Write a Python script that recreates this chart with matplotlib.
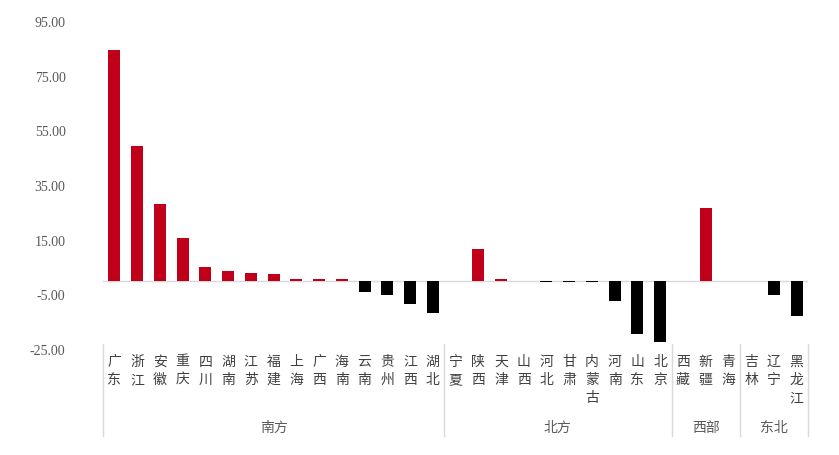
import matplotlib
matplotlib.use("Agg")
import matplotlib.pyplot as plt

plt.rcParams['font.family'] = ['Noto Sans CJK SC', 'DejaVu Sans']

provinces = ["广东", "浙江", "安徽", "重庆", "四川", "湖南", "江苏", "福建", "上海", "广西",
             "海南", "云南", "贵州", "江西", "湖北",
             "宁夏", "陕西", "天津", "山西", "河北", "甘肃", "内蒙古", "河南", "山东", "北京",
             "西藏", "新疆", "青海",
             "吉林", "辽宁", "黑龙江"]
values = [84.3, 49.2, 28.1, 15.5, 5.0, 3.5, 2.8, 2.3, 0.5, 0.5,
          0.5, -4.3, -5.3, -8.6, -12.0,
          0.0, 11.6, 0.6, 0.0, -0.5, -0.5, -0.5, -7.5, -19.7, -22.4,
          0.0, 26.6, 0.0,
          0.0, -5.4, -13.0]
groups = ["南方", "北方", "西部", "东北"]
group_sizes = [15, 10, 3, 3]
yticks = [-25, -5, 15, 35, 55, 75, 95]

fig = plt.figure(figsize=(8.39, 4.56), dpi=100)
ax = fig.add_axes([0.1228, 0.2325, 0.8402, 0.7193])

x = list(range(len(provinces)))
colors = ["#c00018" if v >= 0 else "#000000" for v in values]
ax.bar(x, values, width=0.53, color=colors, zorder=3)
ax.axhline(0, color="#d9d9d9", lw=1, zorder=2)

ax.set_xlim(-0.5, len(provinces) - 0.5)
ax.set_ylim(-25, 95)
ax.set_yticks(yticks)
ax.set_yticklabels(["%.2f" % t for t in yticks], family="Liberation Serif",
                   fontsize=10, color="#595959")
ax.tick_params(axis="y", length=0, pad=27)
ax.set_xticks([])
for s in ax.spines.values():
    s.set_visible(False)

trans = ax.get_xaxis_transform()
for i, name in enumerate(provinces):
    ax.text(i, -0.014, "\n".join(name), transform=trans, ha="center", va="top",
            fontsize=10, color="#404040", linespacing=1.4)

# group separators and labels
start = 0
bounds = [-0.5]
for g, n in zip(groups, group_sizes):
    end = start + n
    bounds.append(end - 0.5)
    ax.text((start + end - 1) / 2, -0.238, g, transform=trans, ha="center",
            va="center", fontsize=10, color="#595959")
    start = end
for b in bounds:
    ax.plot([b, b], [0.015, -0.265], transform=trans, color="#d9d9d9", lw=1,
            clip_on=False)

fig.savefig("out.png", dpi=100)
